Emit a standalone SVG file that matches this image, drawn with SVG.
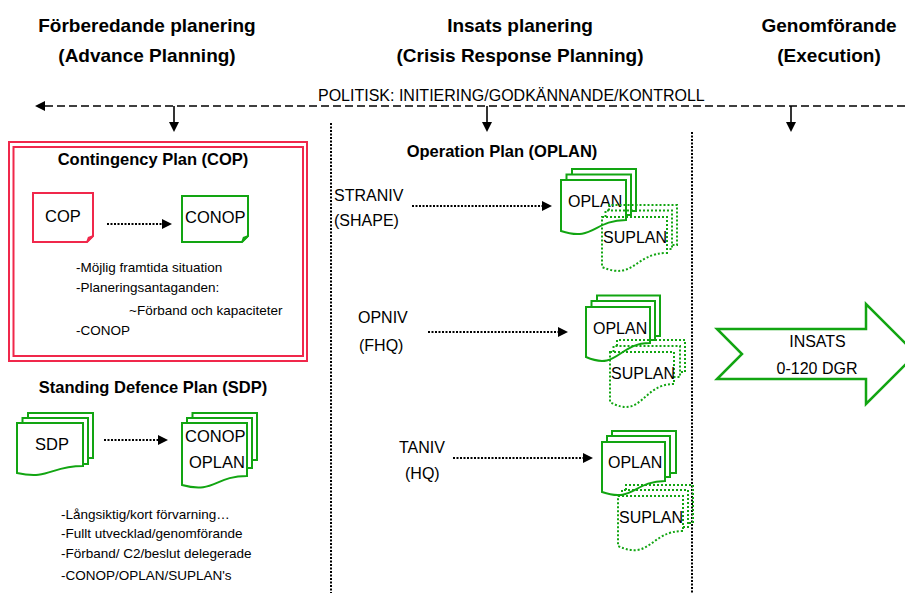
<svg xmlns="http://www.w3.org/2000/svg" width="905" height="593" viewBox="0 0 905 593">
  <style>
    text { font-family: "Liberation Sans", Arial, sans-serif; fill: #000; }
    .hdr { font-size: 19px; font-weight: bold; text-anchor: middle; }
    .ttl { font-size: 16.5px; font-weight: bold; text-anchor: middle; }
    .lbl { font-size: 16px; }
    .doc { font-size: 16.5px; }
    .blt { font-size: 13.5px; }
    .red { fill: #fff; stroke: #f0284b; stroke-width: 2; }
    .grn { fill: #fff; stroke: #12a512; stroke-width: 2; }
    .grd { fill: none; stroke: #12a512; stroke-width: 2; stroke-dasharray: 2 2; }
    .dot { fill: none; stroke: #000; stroke-width: 2; stroke-dasharray: 2 1.5; }
    .dash { fill: none; stroke: #000; stroke-width: 1.6; stroke-dasharray: 8 4; }
    .solid { fill: none; stroke: #000; stroke-width: 1.6; }
  </style>
  <defs>
    <marker id="head" markerUnits="userSpaceOnUse" markerWidth="10" markerHeight="10" refX="1" refY="5" orient="auto">
      <path d="M0,0 L10,5 L0,10 Z" fill="#000"/>
    </marker>
  </defs>

  <rect width="905" height="593" fill="#fff"/>

  <!-- column headings -->
  <g id="heading-advance">
    <text class="hdr" x="147" y="32">Förberedande planering</text>
    <text class="hdr" x="147" y="62">(Advance Planning)</text>
  </g>
  <g id="heading-crisis">
    <text class="hdr" x="520" y="32">Insats planering</text>
    <text class="hdr" x="520" y="62">(Crisis Response Planning)</text>
  </g>
  <g id="heading-execution">
    <text class="hdr" x="829" y="32">Genomförande</text>
    <text class="hdr" x="829" y="62">(Execution)</text>
  </g>

  <!-- political control line -->
  <g id="political">
    <text class="lbl" x="318" y="101">POLITISK: INITIERING/GODKÄNNANDE/KONTROLL</text>
  </g>

  <!-- connectors -->
  <g id="connectors">
    <path class="dash" d="M905,106 H44" marker-end="url(#head)"/>
    <path class="solid" d="M174,106 V123" marker-end="url(#head)"/>
    <path class="solid" d="M487,106 V123" marker-end="url(#head)"/>
    <path class="solid" d="M791,106 V123" marker-end="url(#head)"/>
    <path class="dot" d="M331,123 V593"/>
    <path class="dot" d="M692,132 V593"/>
    <path class="dot" d="M107,224 H163" marker-end="url(#head)"/>
    <path class="dot" d="M104,440 H159" marker-end="url(#head)"/>
    <path class="dot" d="M412,206 H543" marker-end="url(#head)"/>
    <path class="dot" d="M428,332 H559" marker-end="url(#head)"/>
    <path class="dot" d="M453,458 H584" marker-end="url(#head)"/>
  </g>

  <!-- Contingency Plan frame -->
  <g id="cop-frame">
    <rect x="9" y="142" width="298" height="219" fill="none" stroke="#f0284b" stroke-width="2"/>
    <rect x="13.5" y="147" width="289.5" height="209" fill="none" stroke="#f0284b" stroke-width="2"/>
    <text class="ttl" x="153" y="165">Contingency Plan (COP)</text>
    <text class="blt" x="76" y="272">-Möjlig framtida situation</text>
    <text class="blt" x="76" y="292">-Planeringsantaganden:</text>
    <text class="blt" x="129" y="315">~Förband och kapaciteter</text>
    <text class="blt" x="76" y="335">-CONOP</text>
  </g>
  <g id="cop">
    <path class="red" d="M33,193 H93 V236 L87,242 H33 Z"/>
    <path d="M87,242 L88.5,237.5 L93,236 Z" fill="#f0284b" stroke="#f0284b" stroke-width="1.5"/>
    <text class="doc" x="45" y="222">COP</text>
  </g>
  <g id="conop">
    <path class="grn" d="M182,196 H248 V236 L242,242 H182 Z"/>
    <path d="M242,242 L243.5,237.5 L248,236 Z" fill="#12a512" stroke="#12a512" stroke-width="1.5"/>
    <text class="doc" x="185" y="223">CONOP</text>
  </g>

  <!-- Standing Defence Plan -->
  <g id="sdp-title">
    <text class="ttl" x="153" y="393">Standing Defence Plan (SDP)</text>
    <text class="blt" x="61" y="519">-Långsiktig/kort förvarning…</text>
    <text class="blt" x="61" y="538">-Fullt utvecklad/genomförande</text>
    <text class="blt" x="61" y="558">-Förband/ C2/beslut delegerade</text>
    <text class="blt" x="61" y="580">-CONOP/OPLAN/SUPLAN's</text>
  </g>
  <g id="sdp">
    <rect class="grn" x="28" y="413" width="65" height="45"/>
    <rect class="grn" x="22.5" y="418" width="65.5" height="46"/>
    <path class="grn" d="M17,423 H83 V466 C50,466 50,480 17,473 Z"/>
    <text class="doc" x="35" y="450">SDP</text>
  </g>
  <g id="sdp-plans">
    <rect class="grn" x="192.5" y="413" width="64.5" height="47"/>
    <rect class="grn" x="187" y="418" width="65" height="50"/>
    <path class="grn" d="M182,423 H247 V476 C214.5,476 214.5,494 182,485 Z"/>
    <text class="doc" x="185" y="442">CONOP</text>
    <text class="doc" x="189" y="468">OPLAN</text>
  </g>

  <!-- Operation Plan levels -->
  <g id="oplan-title">
    <text class="ttl" x="502" y="157">Operation Plan (OPLAN)</text>
  </g>
  <g id="straniv">
    <text class="lbl" x="334" y="201">STRANIV</text>
    <text class="lbl" x="334" y="226">(SHAPE)</text>
  </g>
  <g id="opniv">
    <text class="lbl" x="358" y="323">OPNIV</text>
    <text class="lbl" x="359" y="351">(FHQ)</text>
  </g>
  <g id="taniv">
    <text class="lbl" x="399" y="453">TANIV</text>
    <text class="lbl" x="405" y="479">(HQ)</text>
  </g>

  <g id="oplan-shape">
    <rect class="grn" x="572" y="169" width="64" height="42"/>
    <rect class="grn" x="566.5" y="174.5" width="64.5" height="40.5"/>
    <path class="grn" d="M561,180 H626 V220 C593.5,220 593.5,242 561,231 Z"/>
    <text class="lbl" x="568" y="207">OPLAN</text>
  </g>
  <g id="suplan-shape">
    <path class="grd" d="M609,210.5 V205 H677 V245 H672"/>
    <path class="grd" d="M605.5,217 V210.5 H672 V249 H667"/>
    <path class="grd" d="M602,217 H667 V253 C634.5,253 634.5,281 602,267 Z"/>
    <text class="lbl" x="603" y="243">SUPLAN</text>
  </g>

  <g id="oplan-fhq">
    <rect class="grn" x="597" y="295.5" width="63" height="40.5"/>
    <rect class="grn" x="591.5" y="301" width="63.5" height="39"/>
    <path class="grn" d="M586,307 H650 V343 C618,343 618,371 586,357 Z"/>
    <text class="lbl" x="593" y="334">OPLAN</text>
  </g>
  <g id="suplan-fhq">
    <path class="grd" d="M617,346 V340 H685 V372 H680"/>
    <path class="grd" d="M613.5,352 V346 H680 V377 H674"/>
    <path class="grd" d="M610,352 H674 V384 C642,384 642,420 610,402 Z"/>
    <text class="lbl" x="611" y="379">SUPLAN</text>
  </g>

  <g id="oplan-hq">
    <rect class="grn" x="612" y="431" width="64" height="42"/>
    <rect class="grn" x="607" y="436" width="63" height="41"/>
    <path class="grn" d="M602,442 H665 V481 C633.5,481 633.5,503 602,492 Z"/>
    <text class="lbl" x="608" y="468">OPLAN</text>
  </g>
  <g id="suplan-hq">
    <path class="grd" d="M626,490 V485 H693 V523 H688"/>
    <path class="grd" d="M622,496 V490 H688 V527 H683"/>
    <path class="grd" d="M618,496 H683 V531 C650.5,531 650.5,561 618,546 Z"/>
    <text class="lbl" x="619" y="523">SUPLAN</text>
  </g>

  <!-- execution arrow -->
  <g id="insats">
    <path d="M717,329 H866 V304 L916,354 L866,404 V379 H717 L742,354 Z" fill="#fff" stroke="#12a512" stroke-width="2.5"/>
    <text class="lbl" x="817.5" y="347" text-anchor="middle">INSATS</text>
    <text class="lbl" x="817" y="374" text-anchor="middle">0-120 DGR</text>
  </g>
</svg>
